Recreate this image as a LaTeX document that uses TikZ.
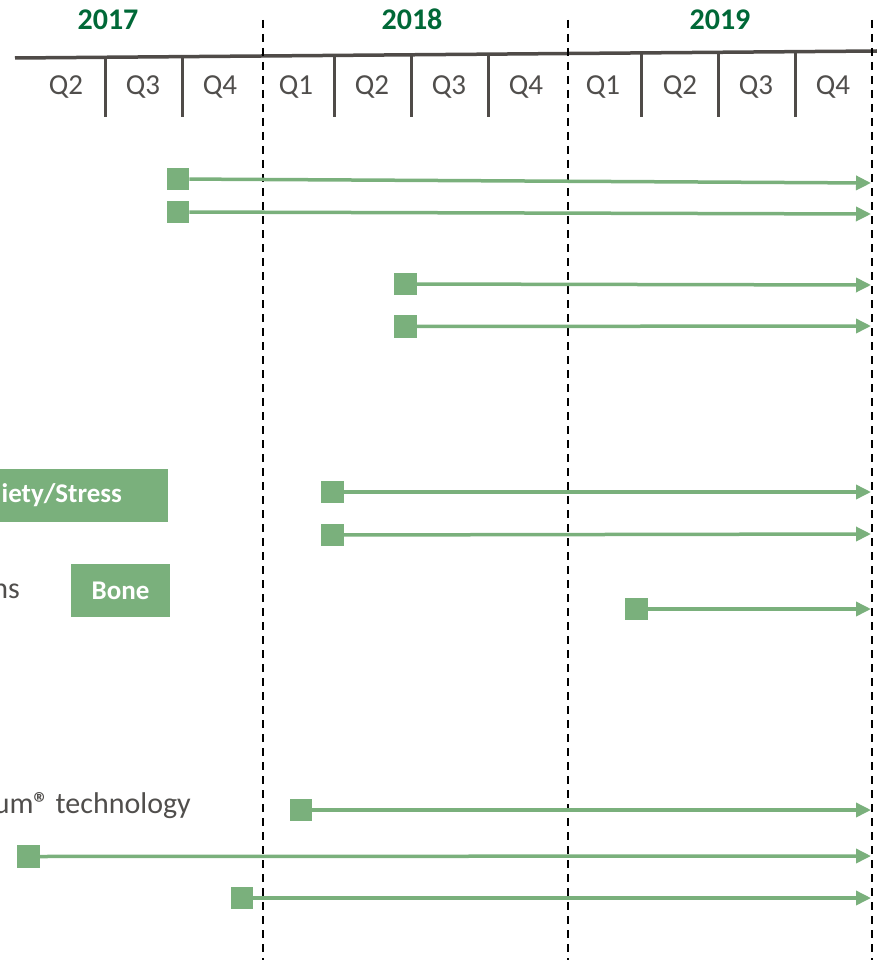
\documentclass[tikz,border=0pt]{standalone}
\usepackage{fontspec}
\setmainfont{Carlito}
\usetikzlibrary{arrows.meta}

\definecolor{bargreen}{RGB}{122,176,124}
\definecolor{yeargreen}{RGB}{0,104,55}
\definecolor{axisgray}{RGB}{79,75,72}
\definecolor{labelgray}{RGB}{80,78,76}

\tikzset{
  startmark/.style={fill=bargreen, minimum size=22.5pt, inner sep=0pt},
  spanarrow/.style={draw=bargreen, line width=3.5pt, -{Triangle[length=15pt,width=14pt]}},
  yearline/.style={line width=1.8pt, dash pattern=on 8pt off 6pt},
  quarter/.style={text=labelgray, font=\fontsize{29}{31}\selectfont, anchor=base, inner sep=0pt},
  year/.style={text=yeargreen, font=\bfseries\fontsize{30}{32}\selectfont, anchor=base, inner sep=0pt},
  tag/.style={fill=bargreen, text=white, font=\bfseries\fontsize{27}{29}\selectfont, inner sep=0pt, minimum height=53pt},
  caption/.style={text=labelgray, font=\fontsize{30}{32}\selectfont, anchor=base east, inner sep=0pt}
}

\begin{document}
\begin{tikzpicture}[x=1pt,y=-1pt]
    \useasboundingbox (0,0) rectangle (877,960);

    % time axis
    \coordinate (axL) at (15,58);
    \coordinate (axR) at (877,51);
    \draw[axisgray, line width=3.5pt] (axL) -- (axR);
    \foreach \x in {105,182,334,411,488,641,718,795}
        \draw[axisgray, line width=3pt] (\x,{58-7*(\x-15)/862}) -- (\x,117);

    % year boundaries
    \foreach \x [count=\k] in {263,568,872}
        \draw[yearline] (\x,20) coordinate (top\k) -- (\x,960) coordinate (bot\k);

    \node[year] (y17) at (108,30) {2017};
    \node[year] (y18) at (412,30) {2018};
    \node[year] (y19) at (720,30) {2019};

    \foreach \x/\q [count=\k] in {66/Q2,143/Q3,220/Q4,296/Q1,372/Q2,449/Q3,526/Q4,603/Q1,680/Q2,756/Q3,833/Q4}
        \node[quarter] (q\k) at (\x,95) {\q};

    % labels on the left
    \node[tag, minimum width=212pt, anchor=east] (stress) at (168,495.5) {iety/Stress};
    \node[tag, minimum width=99pt] (bone) at (120.5,590.5) {Bone};
    \node[caption] (ns) at (20,598) {ns};
    \node[caption] (tech) at (191,813) {um{\bfseries ®} technology};

    % programme bars
    \foreach \i/\sx/\sy/\ey in {1/178/179/183, 2/178/212/214, 3/405.5/284/285, 4/405.5/326.5/326,
                                5/332.5/492/492, 6/332.5/535/534, 7/636.5/609/609,
                                8/301/810/810, 9/28.5/856.5/856, 10/242/898/898} {
        \node[startmark] (m\i) at (\sx,\sy) {};
        \coordinate (e\i) at (871,\ey);
        \draw[spanarrow] (m\i) -- (e\i);
    }
\end{tikzpicture}
\end{document}
